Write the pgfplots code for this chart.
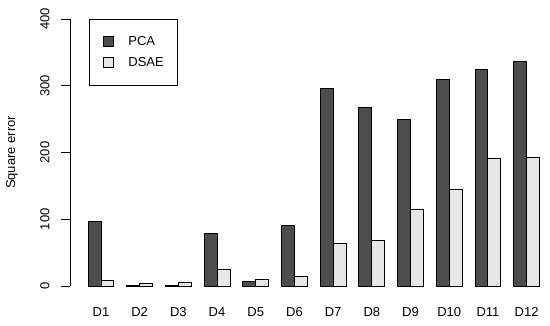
\documentclass[border=0pt]{standalone}
\usepackage{pgfplots}
\pgfplotsset{compat=1.18}
\usepackage{fontspec}
\setmainfont{Liberation Sans}
\definecolor{pcagray}{HTML}{4D4D4D}
\definecolor{dsaegray}{HTML}{E6E6E6}
\begin{document}
\begin{tikzpicture}[x=1pt,y=1pt]
\useasboundingbox (0,0) rectangle (550,325);
\begin{axis}[
  at={(70pt,28.3pt)}, anchor=south west,
  scale only axis, width=487.6pt, height=288.4pt,
  xmin=-0.4, xmax=37.4, ymin=-16, ymax=416,
  axis line style={draw=none},
  ytick={0,100,200,300,400},
  ytick pos=left,
  tick align=outside,
  major tick length=9pt,
  ytick style={draw=black, line width=0.9pt},
  xtick={2,5,8,11,14,17,20,23,26,29,32,35},
  xticklabels={D1,D2,D3,D4,D5,D6,D7,D8,D9,D10,D11,D12},
  xtick style={draw=none},
  xticklabel style={font=\fontsize{13}{15}\selectfont, yshift=1.5pt},
  yticklabel style={font=\fontsize{13}{15}\selectfont, rotate=90, anchor=south, yshift=8pt},
  /pgf/number format/assume math mode=true,
  ylabel={Square error},
  ylabel style={font=\fontsize{13}{15}\selectfont, at={(axis description cs:0,0.5)}, anchor=center, rotate=0, yshift=58pt},
  legend style={at={(axis description cs:0.039,0.963)}, anchor=north west,
    draw=black, line width=0.9pt, inner xsep=14pt, inner ysep=17pt,
    row sep=10pt, column sep=14pt, font=\fontsize{13}{15}\selectfont,
    nodes={inner sep=0pt, anchor=west}},
  legend cell align=left,
  legend image code/.code={\draw[#1, line width=0.9pt] (0pt,-5pt) rectangle (10pt,5pt);},
  clip=false,
]
\addplot[ybar, bar width=1, bar shift=0pt, fill=pcagray, draw=black, line width=0.9pt]
  coordinates {(1.5,96) (4.5,1) (7.5,1) (10.5,78) (13.5,6.5) (16.5,90) (19.5,296) (22.5,267) (25.5,250) (28.5,310) (31.5,325) (34.5,337)};
\addlegendentry{PCA}
\addplot[ybar, bar width=1, bar shift=0pt, fill=dsaegray, draw=black, line width=0.9pt]
  coordinates {(2.5,9) (5.5,4) (8.5,6) (11.5,25) (14.5,10) (17.5,14) (20.5,64) (23.5,68) (26.5,115) (29.5,145) (32.5,191) (35.5,193)};
\addlegendentry{DSAE\hspace{8pt}}
\draw[black, line width=0.9pt] (axis cs:-0.4,0) -- (axis cs:-0.4,400);
\end{axis}
\end{tikzpicture}
\end{document}
